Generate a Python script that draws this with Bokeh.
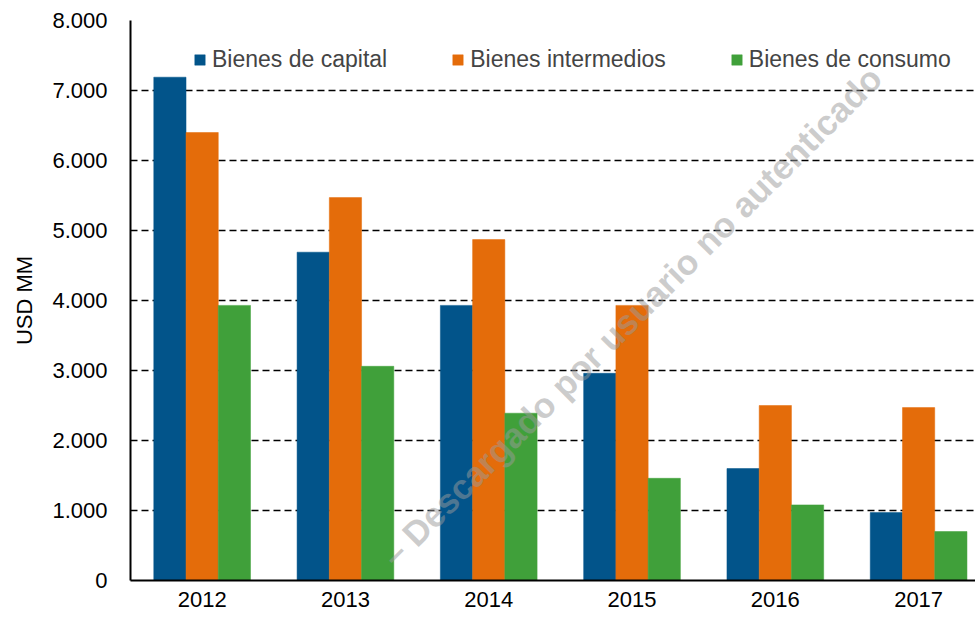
from bokeh.plotting import figure
from bokeh.models import Range1d, FixedTicker, Legend, LegendItem, Label, ColumnDataSource
from bokeh.embed import file_html
from bokeh.resources import INLINE

years = ["2012", "2013", "2014", "2015", "2016", "2017"]
capital = [7190, 4690, 3930, 2960, 1600, 970]
intermedios = [6400, 5470, 4870, 3930, 2500, 2470]
consumo = [3930, 3060, 2390, 1460, 1080, 700]
series_names = ["Bienes de capital", "Bienes intermedios", "Bienes de consumo"]
colors = ["#02548A", "#E46C0A", "#40A03A"]
y_ticks = [0, 1000, 2000, 3000, 4000, 5000, 6000, 7000, 8000]
y_tick_labels = ["0", "1.000", "2.000", "3.000", "4.000", "5.000", "6.000", "7.000", "8.000"]
watermark = "– Descargado por usuario no autenticado"

FONT = "Liberation Sans"

p = figure(width=975, height=610, output_backend="svg", toolbar_location=None,
           x_range=Range1d(-0.5, 5.397), y_range=Range1d(0, 8000),
           min_border_left=130, min_border_right=0, min_border_top=20, min_border_bottom=30)
p.outline_line_color = None
p.background_fill_color = "white"

xpos = list(range(len(years)))
bw = 0.225
renderers = []
for i, (vals, name, col) in enumerate(zip([capital, intermedios, consumo], series_names, colors)):
    src = ColumnDataSource(dict(x=[x + (i - 1) * bw for x in xpos], top=vals))
    r = p.vbar(x="x", top="top", width=bw, source=src, fill_color=col, line_color=col, line_width=0.5)
    renderers.append((name, r))

# axes
p.xaxis.ticker = FixedTicker(ticks=xpos)
p.xaxis.major_label_overrides = {i: y for i, y in enumerate(years)}
p.yaxis.ticker = FixedTicker(ticks=y_ticks)
p.yaxis.major_label_overrides = {t: l for t, l in zip(y_ticks, y_tick_labels)}
for ax in (p.xaxis[0], p.yaxis[0]):
    ax.major_tick_line_color = None
    ax.minor_tick_line_color = None
    ax.axis_line_color = "black"
    ax.axis_line_width = 2
    ax.major_label_text_font = FONT
    ax.major_label_text_font_size = "22px"
    ax.major_label_text_color = "black"
p.xaxis.major_label_standoff = 5
p.yaxis.major_label_standoff = 17
p.yaxis.axis_label = "USD MM"
p.yaxis.axis_label_text_font = FONT
p.yaxis.axis_label_text_font_size = "22px"
p.yaxis.axis_label_text_font_style = "normal"
p.yaxis.axis_label_text_color = "black"
p.yaxis.axis_label_standoff = 12

p.xgrid.grid_line_color = None
p.ygrid.grid_line_color = "black"
p.ygrid.grid_line_dash = "7 4"
p.ygrid.grid_line_width = 1.5

legend = Legend(items=[LegendItem(label=n, renderers=[r]) for n, r in renderers],
                orientation="horizontal", location=(63, 507),
                padding=0, margin=0, spacing=64, label_standoff=6,
                glyph_width=13, glyph_height=13,
                label_text_font=FONT, label_text_font_size="23px",
                border_line_color=None, background_fill_alpha=0)
p.add_layout(legend)

wm = Label(x=4.70, y=7260, text=watermark, angle=45, angle_units="deg",
           text_align="right", text_baseline="middle",
           text_font=FONT, text_font_style="bold", text_font_size="35px",
           text_color="#9a9a9a", text_alpha=0.5)
p.add_layout(wm)

open("out.html", "w").write(file_html(p, INLINE))
